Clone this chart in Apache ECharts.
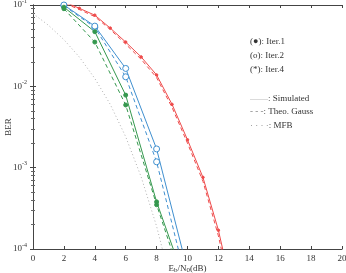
<!DOCTYPE html>
<html>
<head>
<meta charset="utf-8">
<script src="https://cdn.jsdelivr.net/npm/echarts@6/dist/echarts.min.js"></script>
<style>
  html, body { margin: 0; padding: 0; background: #fff; }
  #chart { width: 346px; height: 273px; }
</style>
</head>
<body>
<div id="chart"></div>
<script>
// Eb/N0 (dB) grids
const snrFine = [0, 1, 2, 3, 4, 5, 6, 7, 8, 9, 10, 11, 12, 13];
const snrSim = [2, 4, 6, 8, 10];

// Iter.1 (red)
const iter1Sim = [0.16, 0.13, 0.11, 0.091, 0.075, 0.052, 0.035, 0.023, 0.0138, 0.0060, 0.0022, 7.6e-4, 1.7e-4, 2.5e-5];
const iter1Theo = [0.155, 0.126, 0.106, 0.088, 0.072, 0.050, 0.033, 0.0215, 0.0128, 0.0055, 0.0020, 6.8e-4, 1.45e-4, 2.0e-5];

// Iter.2 (blue)
const iter2Sim = [0.1, 0.055, 0.0166, 0.0017, 5.5e-5];
const iter2Theo = [0.098, 0.053, 0.0131, 0.00118, 3.5e-5];

// Iter.4 (green)
const iter4Sim = [0.094, 0.047, 0.0078, 3.8e-4, 3.2e-5];
const iter4Theo = [0.09, 0.035, 0.0059, 3.5e-4, 2.5e-5];

// matched filter bound
const mfb = [0.0786, 0.0563, 0.0375, 0.0229, 0.0125, 0.0060, 0.0024, 7.7e-4, 1.9e-4, 3.4e-5];

// y tick labels (decades)
const yTickValues = [1e-1, 1e-2, 1e-3, 1e-4];
const yTickExps = ['-1', '-2', '-3', '-4'];

const RED = '#ee4a4a';
const BLUE = '#3f8fcf';
const GREEN = '#35984e';
const GREY = '#b0b0b0';
const FONT = 'Liberation Serif';

function pairs(xs, ys) {
  return ys.map((y, i) => [xs[i], y]);
}

function lineSeries(name, data, color, type, symbol, symbolSize, filled) {
  return {
    name: name,
    type: 'line',
    data: data,
    symbol: symbol,
    symbolSize: symbolSize,
    showSymbol: symbol !== 'none',
    itemStyle: { color: filled ? color : '#fff', borderColor: color, borderWidth: 1 },
    lineStyle: { color: color, width: 1, type: type },
    animation: false,
    silent: true,
  };
}

const chart = echarts.init(document.getElementById('chart'));

const option = {
  animation: false,
  grid: {
    left: 33, right: 4, top: 5, bottom: 24,
    outerBoundsMode: 'auto',
    outerBounds: { left: -40, right: -40, top: -40, bottom: -40 },
  },
  xAxis: [
    {
      type: 'value',
      min: 0,
      max: 20,
      interval: 2,
      name: 'E{sub|b}/N{sub|0}(dB)',
      nameLocation: 'middle',
      nameGap: 14,
      nameMoveOverlap: false,
      nameTextStyle: {
        fontFamily: FONT, fontSize: 9, color: '#333',
        rich: { sub: { fontFamily: FONT, fontSize: 7, color: '#333', verticalAlign: 'bottom', padding: [4, 0, 0, 0] } },
      },
      axisLine: { lineStyle: { color: '#444', width: 1 } },
      axisTick: { inside: true, length: 3, lineStyle: { color: '#444' } },
      axisLabel: { margin: 5, fontFamily: FONT, fontSize: 9, color: '#333' },
      splitLine: { show: false },
    },
    {
      type: 'value',
      position: 'top',
      min: 0,
      max: 20,
      interval: 2,
      axisLine: { lineStyle: { color: '#444', width: 1 } },
      axisTick: { inside: true, length: 3, lineStyle: { color: '#444' } },
      axisLabel: { show: false },
      splitLine: { show: false },
    },
  ],
  yAxis: [
    {
      type: 'log',
      logBase: 10,
      min: 1e-4,
      max: 1e-1,
      name: 'BER',
      nameLocation: 'middle',
      nameGap: 20,
      nameMoveOverlap: false,
      nameTextStyle: { fontFamily: FONT, fontSize: 9, color: '#333' },
      axisLine: { lineStyle: { color: '#444', width: 1 } },
      axisTick: { inside: true, length: 3, lineStyle: { color: '#444' } },
      minorTick: { show: true, splitNumber: 9, length: 2, lineStyle: { color: '#666' } },
      axisLabel: { show: false },
      splitLine: { show: false },
    },
    {
      type: 'log',
      logBase: 10,
      position: 'right',
      min: 1e-4,
      max: 1e-1,
      axisLine: { lineStyle: { color: '#444', width: 1 } },
      axisTick: { inside: true, length: 3, lineStyle: { color: '#444' } },
      minorTick: { show: true, splitNumber: 9, length: 2, lineStyle: { color: '#666' } },
      axisLabel: { show: false },
      splitLine: { show: false },
    },
  ],
  series: [
    lineSeries('MFB', pairs(snrFine, mfb), GREY, [1, 2.5], 'none', 0, true),
    lineSeries('Iter.1 theo', pairs(snrFine, iter1Theo), RED, [4, 3], 'none', 0, true),
    lineSeries('Iter.1 sim', pairs(snrFine, iter1Sim), RED, 'solid', 'circle', 2.5, true),
    lineSeries('Iter.2 theo', pairs(snrSim, iter2Theo), BLUE, [4, 3], 'circle', 6, false),
    lineSeries('Iter.2 sim', pairs(snrSim, iter2Sim), BLUE, 'solid', 'circle', 6, false),
    lineSeries('Iter.4 theo', pairs(snrSim, iter4Theo), GREEN, [4, 3], 'circle', 4, true),
    lineSeries('Iter.4 sim', pairs(snrSim, iter4Sim), GREEN, 'solid', 'circle', 4, true),
  ],
  graphic: [
    { type: 'text', left: 250, top: 37, style: { text: '(\u25CF): Iter.1', font: '9px "Liberation Serif"', fill: '#333' } },
    { type: 'text', left: 250, top: 51, style: { text: '(o): Iter.2', font: '9px "Liberation Serif"', fill: '#333' } },
    { type: 'text', left: 250, top: 65, style: { text: '(*): Iter.4', font: '9px "Liberation Serif"', fill: '#333' } },
    { type: 'text', left: 250, top: 94, style: { text: '{g|\u2014\u2014}: Simulated', font: '9px "Liberation Serif"', fill: '#333', rich: { g: { fill: GREY, font: '9px "Liberation Serif"' } } } },
    { type: 'text', left: 250, top: 107, style: { text: '{g|- - -}: Theo. Gauss', font: '9px "Liberation Serif"', fill: '#333', rich: { g: { fill: '#777', font: '9px "Liberation Serif"' } } } },
    { type: 'text', left: 250, top: 121, style: { text: '{g|\u00B7 \u00B7 \u00B7 \u00B7}: MFB', font: '9px "Liberation Serif"', fill: '#333', rich: { g: { fill: '#777', font: '9px "Liberation Serif"' } } } },
  ],
};

chart.setOption(option);

// y tick labels placed through the axis scale
const axisX = chart.convertToPixel({ xAxisIndex: 0 }, 0);
const yLabels = yTickValues.map((v, i) => {
  const py = chart.convertToPixel({ yAxisIndex: 0 }, v);
  return {
    type: 'group',
    x: axisX - 4,
    y: py,
    children: [
      { type: 'text', style: { text: '10', font: '9px "Liberation Serif"', fill: '#333', align: 'right', verticalAlign: 'middle' }, x: -7, y: 0 },
      { type: 'text', style: { text: yTickExps[i], font: '6px "Liberation Serif"', fill: '#333', align: 'left', verticalAlign: 'middle' }, x: -7, y: -4 },
    ],
  };
});
chart.setOption({ graphic: option.graphic.concat(yLabels) });
</script>
</body>
</html>
